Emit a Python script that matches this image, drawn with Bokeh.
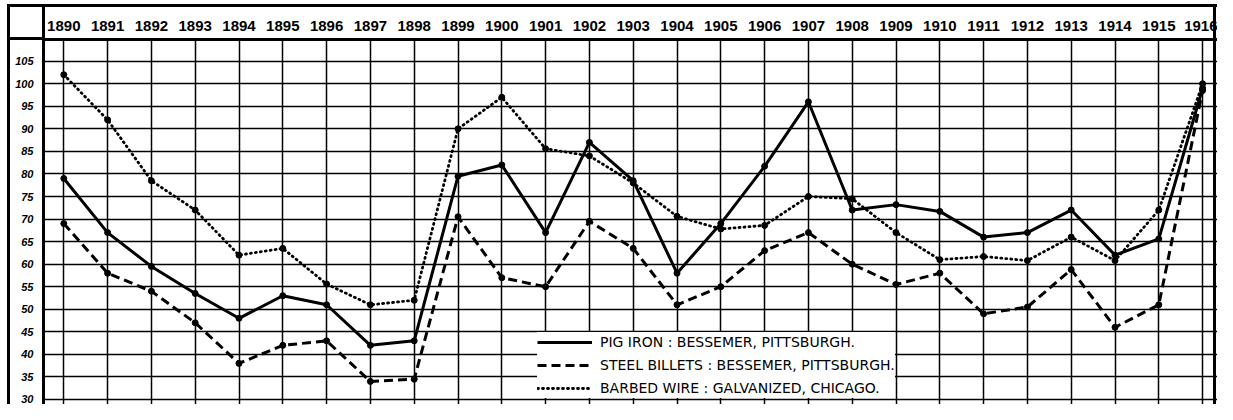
from bokeh.plotting import figure
from bokeh.models import FixedTicker, Range1d, Legend, LegendItem
from bokeh.embed import file_html
from bokeh.resources import INLINE

years = list(range(1890, 1917))
pig_iron = [79, 67, 59.5, 53.5, 48, 53, 51, 42, 43, 79.5, 82, 67, 87, 78.5, 58, 69,
            81.7, 96, 72, 73.2, 71.7, 66, 67, 72, 62, 65.6, 99]
steel_billets = [69, 58, 54, 47, 38, 42, 43, 34, 34.5, 70.5, 57, 55, 69.5, 63.5, 51, 55,
                 63, 67, 60, 55.5, 58, 49, 50.5, 58.8, 46, 51, 98.5]
barbed_wire = [102, 92, 78.5, 72, 62, 63.5, 55.6, 51, 52, 90, 97, 85.6, 84, 78, 70.6, 67.8,
               68.6, 75, 74.5, 67, 61, 61.7, 60.8, 66, 60.8, 72, 100]
y_ticks = list(range(30, 110, 5))
series_labels = ["PIG IRON : BESSEMER, PITTSBURGH.",
                 "STEEL BILLETS : BESSEMER, PITTSBURGH.",
                 "BARBED WIRE : GALVANIZED, CHICAGO."]

p = figure(width=1217, height=404,
           x_range=Range1d(1889.5365, 1916.34), y_range=Range1d(28.89, 109.81),
           output_backend="svg", toolbar_location=None, x_axis_location="above",
           min_border_left=43, min_border_top=39, min_border_right=0, min_border_bottom=0)
p.outline_line_color = None
p.background_fill_color = None
p.border_fill_color = None

# ruled frame of the table (outer border, header row and label column)
bars = [("3px", "400px", "7px", "4px"),      # left border
        ("1210px", "3px", "7px", "4px"),     # top border
        ("36px", "3px", "7px", "37px"),      # header bottom across corner cell
        ("3px", "36px", "42px", "4px"),      # label column separator in header
        ("3px", "400px", "1213px", "4px")]   # right border
p.styles = {
    "background-image": ", ".join(["linear-gradient(#000, #000)"] * len(bars)),
    "background-size": ", ".join(f"{w} {h}" for w, h, _, _ in bars),
    "background-position": ", ".join(f"{x} {y}" for _, _, x, y in bars),
    "background-repeat": "no-repeat",
}

year_ticker = FixedTicker(ticks=years)
ytick = FixedTicker(ticks=y_ticks)

xa = p.xaxis[0]
xa.ticker = year_ticker
xa.major_tick_line_color = None
xa.minor_tick_line_color = None
xa.major_tick_out = 0
xa.major_tick_in = 0
xa.axis_line_width = 3
xa.axis_line_color = "black"
xa.major_label_standoff = 9
xa.major_label_text_font = "Liberation Sans"
xa.major_label_text_font_size = "15px"
xa.major_label_text_font_style = "bold"
xa.major_label_text_color = "black"

ya = p.yaxis[0]
ya.ticker = ytick
ya.major_tick_line_color = None
ya.minor_tick_line_color = None
ya.major_tick_out = 0
ya.major_tick_in = 0
ya.axis_line_width = 3
ya.axis_line_color = "black"
ya.major_label_standoff = 10
ya.major_label_text_font = "Liberation Sans"
ya.major_label_text_font_size = "11px"
ya.major_label_text_font_style = "bold italic"
ya.major_label_text_color = "black"

p.xgrid.ticker = year_ticker
p.ygrid.ticker = ytick
p.xgrid[0].grid_line_width = 1.5
p.ygrid[0].grid_line_width = 1.7
for g in (p.xgrid[0], p.ygrid[0]):
    g.grid_line_color = "black"
    g.grid_line_alpha = 1

r1 = p.line(years, pig_iron, line_width=3, line_color="black")
p.scatter(years, pig_iron, size=6, color="black")
r2 = p.line(years, steel_billets, line_width=3, line_color="black", line_dash="9 5")
p.scatter(years, steel_billets, size=6, color="black")
r3 = p.line(years, barbed_wire, line_width=2.8, line_color="black", line_dash="1 4",
            line_cap="round")
p.scatter(years, barbed_wire, size=6, color="black")

legend = Legend(items=[LegendItem(label=series_labels[0], renderers=[r1]),
                       LegendItem(label=series_labels[1], renderers=[r2]),
                       LegendItem(label=series_labels[2], renderers=[r3])],
                location=(494, 6), glyph_width=55, glyph_height=20, label_height=20,
                label_standoff=8, padding=8, spacing=3,
                background_fill_color="white", background_fill_alpha=1,
                border_line_color=None,
                label_text_font="DejaVu Sans", label_text_font_size="14px",
                label_text_color="black")
p.add_layout(legend)

open("out.html", "w").write(file_html(p, INLINE))
